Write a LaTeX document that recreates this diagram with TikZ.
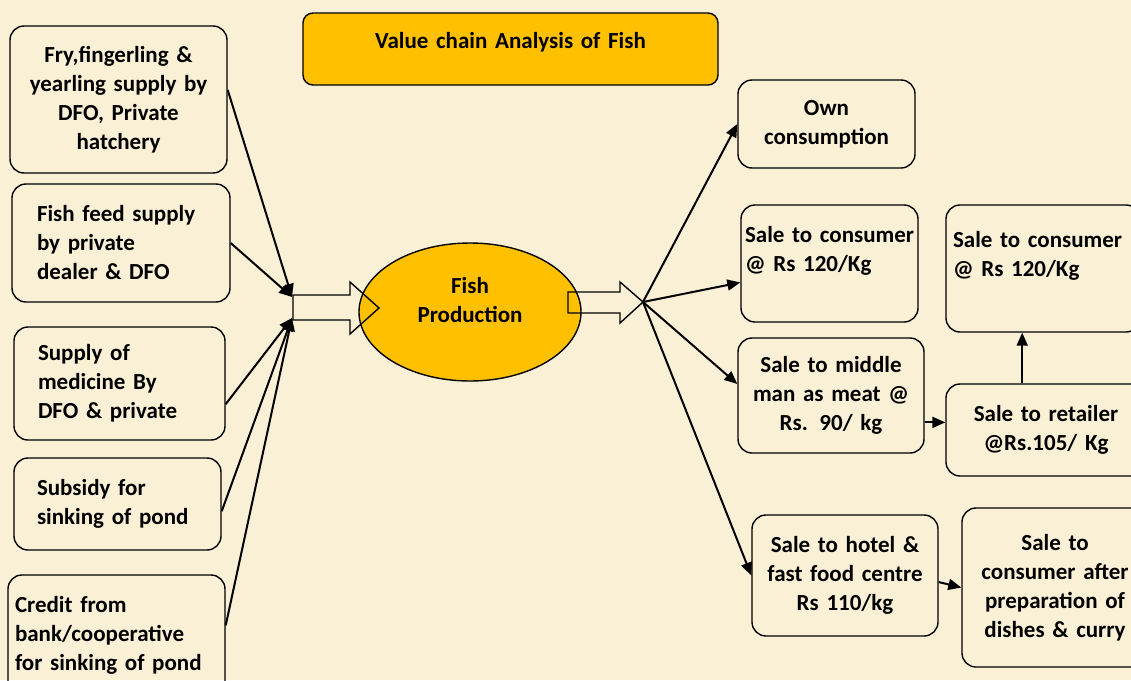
\documentclass[tikz,border=0pt]{standalone}
\usepackage{fontspec}
\setmainfont{Carlito}
\usetikzlibrary{shapes.geometric,arrows.meta}

\definecolor{paper}{HTML}{FAF0D6}
\definecolor{gold}{HTML}{FFC000}

\begin{document}
\begin{tikzpicture}[x=1pt, y=-1pt,
    box/.style={draw, rounded corners=14pt, line width=1.4pt, inner ysep=0pt,
        font=\bfseries\fontsize{23}{29}\selectfont},
    lbox/.style={box, align=left},
    cbox/.style={box, align=center, inner xsep=6pt},
    link/.style={-{Triangle[length=13pt,width=11pt]}, line width=2pt},
    block/.style={draw, line width=1.4pt}
]
\fill[paper] (0,0) rectangle (1131,680);
\useasboundingbox (0,0) rectangle (1131,680);
\clip (0,0) rectangle (1131,680);

% title
\node (title) [cbox, fill=gold, rounded corners=10pt, text width=403pt,
    minimum height=72pt, text depth=17pt] at (510.5,49) {Value chain Analysis of Fish};

% inputs
\node (fry) [cbox, text width=205pt, minimum height=147pt] at (118.5,99.5)
    {Fry,fingerling \&\\yearling supply by\\DFO, Private\\hatchery};
\node (feed) [lbox, inner xsep=25pt, text width=168pt, minimum height=118pt] at (121,243)
    {Fish feed supply\\by private\\dealer \& DFO};
\node (med) [lbox, inner xsep=24pt, text width=163pt, minimum height=113pt] at (119.5,383.5)
    {Supply of\\medicine By\\DFO \& private};
\node (sub) [lbox, inner xsep=23pt, text width=161pt, minimum height=92pt] at (117.5,504)
    {Subsidy for\\sinking of pond};
\node (credit) [lbox, inner xsep=7pt, text width=203pt, minimum height=120pt] at (116.5,635)
    {Credit from\\bank/cooperative\\for sinking of pond};

% production
\node (fish) [ellipse, draw, fill=gold, line width=1.4pt, minimum width=222pt,
    minimum height=138pt, align=center, text depth=25pt,
    font=\bfseries\fontsize{23}{29}\selectfont] at (470,312) {Fish\\Production};

\draw[block] (293,295) -- (350,295) -- (350,282) -- (379,308) -- (350,334)
    -- (350,320) -- (293,320) -- cycle;
\draw[block] (568,292) -- (620,292) -- (620,282) -- (643,302) -- (620,323)
    -- (620,313) -- (568,313) -- cycle;

\coordinate (inTop) at (292,297);
\coordinate (inBot) at (292,318);
\coordinate (outTip) at (643,302);

% outlets
\node (own) [cbox, text width=165pt, minimum height=88pt] at (826.5,124)
    {Own\\consumption};
\node (cons1) [lbox, inner xsep=4pt, text width=169pt, minimum height=117pt] at (829.5,263.5)
    {\mbox{Sale to consumer}\\@ Rs 120/Kg\\~};
\node (mid) [cbox, text width=174pt, minimum height=115pt] at (831,395.5)
    {Sale to middle\\man as meat @\\Rs. 90/ kg};
\node (hotel) [cbox, text width=174pt, minimum height=121pt] at (845,575.5)
    {Sale to hotel \&\\fast food centre\\Rs 110/kg};
\node (cons2) [lbox, inner xsep=7pt, text width=180pt, minimum height=127pt] at (1043,268.5)
    {\mbox{Sale to consumer}\\@ Rs 120/Kg\\~};
\node (ret) [cbox, text width=188pt, minimum height=92pt] at (1046,430)
    {Sale to retailer\\@Rs.105/ Kg};
\node (prep) [cbox, text width=174pt, minimum height=159pt] at (1055,587.5)
    {Sale to\\consumer after\\preparation of\\dishes \& curry};

% connectors
\draw[link] (fry.5) -- (inTop);
\draw[link] (feed.east) -- (inTop);
\draw[link] (med.-11) -- (inBot);
\draw[link] (sub.-4) -- (inBot);
\draw[link] (credit.5) -- (inBot);
\draw[link] (outTip) -- (own.west);
\draw[link] (outTip) -- (cons1.192);
\draw[link] (outTip) -- (mid.173);
\draw[link] (outTip) -- (hotel.west);
\draw[link] (mid.-16) -- (mid.-16 -| ret.west);
\draw[link] (ret.117) -- (ret.117 |- cons2.south);
\draw[link] (hotel.-4) -- (prep.west);
\end{tikzpicture}
\end{document}
